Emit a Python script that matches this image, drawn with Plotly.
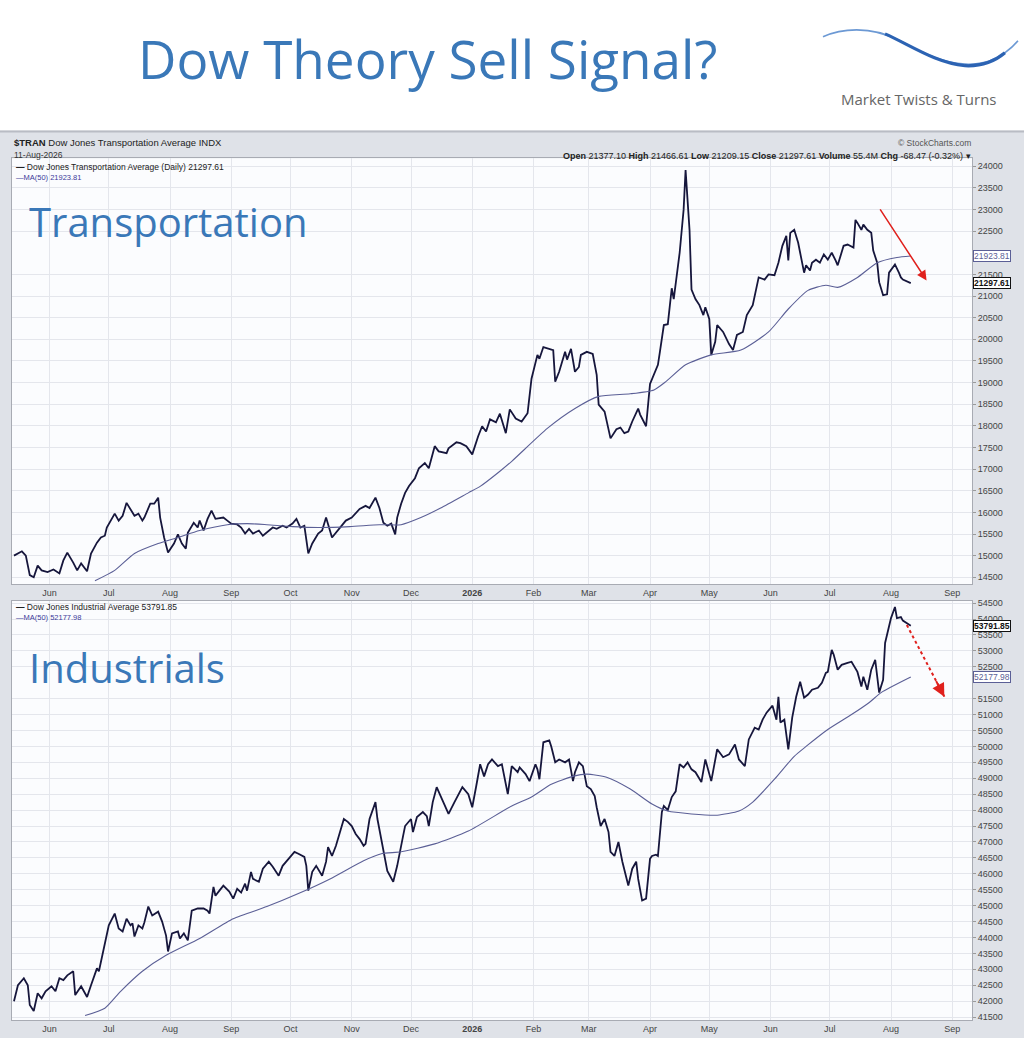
import plotly.graph_objects as go

W, H = 1024, 1040

# ---- values ----
tran_dates = [
    "2025-05-14", "2025-05-18", "2025-05-20", "2025-05-22", "2025-05-24", "2025-05-26", "2025-05-28", "2025-05-31",
    "2025-06-03", "2025-06-06", "2025-06-08", "2025-06-10", "2025-06-13", "2025-06-15", "2025-06-17", "2025-06-20",
    "2025-06-22", "2025-06-25", "2025-06-27", "2025-06-29", "2025-06-30", "2025-07-02", "2025-07-04", "2025-07-06",
    "2025-07-08", "2025-07-10", "2025-07-12", "2025-07-14", "2025-07-16", "2025-07-18", "2025-07-19", "2025-07-22",
    "2025-07-24", "2025-07-26", "2025-07-27", "2025-07-29", "2025-07-31", "2025-08-03", "2025-08-05", "2025-08-07",
    "2025-08-09", "2025-08-10", "2025-08-13", "2025-08-15", "2025-08-16", "2025-08-18", "2025-08-20", "2025-08-22",
    "2025-08-24", "2025-08-28", "2025-08-30", "2025-09-01", "2025-09-04", "2025-09-06", "2025-09-08", "2025-09-10",
    "2025-09-12", "2025-09-15", "2025-09-17", "2025-09-19", "2025-09-22", "2025-09-24", "2025-09-27", "2025-09-29",
    "2025-10-02", "2025-10-04", "2025-10-06", "2025-10-08", "2025-10-10", "2025-10-12", "2025-10-15", "2025-10-17",
    "2025-10-19", "2025-10-22", "2025-10-24", "2025-10-26", "2025-10-29", "2025-11-01", "2025-11-05", "2025-11-08",
    "2025-11-10", "2025-11-13", "2025-11-15", "2025-11-17", "2025-11-19", "2025-11-21", "2025-11-23", "2025-11-24",
    "2025-11-26", "2025-11-28", "2025-11-30", "2025-12-03", "2025-12-05", "2025-12-08", "2025-12-10", "2025-12-13",
    "2025-12-15", "2025-12-19", "2025-12-20", "2025-12-24", "2025-12-26", "2025-12-29", "2026-01-01", "2026-01-04",
    "2026-01-06", "2026-01-08", "2026-01-10", "2026-01-13", "2026-01-15", "2026-01-18", "2026-01-20", "2026-01-23",
    "2026-01-26", "2026-01-29", "2026-01-31", "2026-02-03", "2026-02-04", "2026-02-06", "2026-02-09", "2026-02-11",
    "2026-02-12", "2026-02-14", "2026-02-17", "2026-02-18", "2026-02-20", "2026-02-22", "2026-02-24", "2026-02-25",
    "2026-02-28", "2026-03-03", "2026-03-05", "2026-03-06", "2026-03-09", "2026-03-12", "2026-03-15", "2026-03-17",
    "2026-03-19", "2026-03-21", "2026-03-23", "2026-03-26", "2026-03-27", "2026-03-30", "2026-04-01", "2026-04-05",
    "2026-04-06", "2026-04-08", "2026-04-10", "2026-04-11", "2026-04-12", "2026-04-13", "2026-04-16", "2026-04-18",
    "2026-04-19", "2026-04-21", "2026-04-22", "2026-04-24", "2026-04-26", "2026-04-28", "2026-04-29", "2026-05-01",
    "2026-05-02", "2026-05-04", "2026-05-05", "2026-05-08", "2026-05-11", "2026-05-13", "2026-05-15", "2026-05-18",
    "2026-05-20", "2026-05-23", "2026-05-26", "2026-05-29", "2026-05-31", "2026-06-03", "2026-06-05", "2026-06-07",
    "2026-06-09", "2026-06-10", "2026-06-11", "2026-06-13", "2026-06-15", "2026-06-16", "2026-06-18", "2026-06-19",
    "2026-06-21", "2026-06-22", "2026-06-24", "2026-06-26", "2026-06-28", "2026-06-30", "2026-07-02", "2026-07-04",
    "2026-07-05", "2026-07-08", "2026-07-10", "2026-07-13", "2026-07-14", "2026-07-15", "2026-07-17", "2026-07-18",
    "2026-07-20", "2026-07-22", "2026-07-23", "2026-07-25", "2026-07-26", "2026-07-28", "2026-07-30", "2026-07-31",
    "2026-08-03", "2026-08-05", "2026-08-06", "2026-08-07", "2026-08-11",
]
tran_close = [
    15000, 15100, 15000, 14550, 14500, 14770, 14660, 14620,
    14680, 14590, 14890, 15070, 14840, 14660, 14820, 14640,
    15050, 15300, 15420, 15460, 15650, 15810, 15970, 15810,
    15920, 16220, 16080, 15920, 15970, 15810, 15880, 16200,
    16200, 16340, 15880, 15420, 15070, 15280, 15490, 15280,
    15160, 15530, 15760, 15650, 15810, 15580, 15850, 16040,
    15850, 15880, 15810, 15740, 15720, 15650, 15510, 15620,
    15510, 15580, 15460, 15530, 15650, 15620, 15690, 15650,
    15740, 15850, 15650, 15690, 15050, 15280, 15510, 15580,
    15880, 15420, 15530, 15650, 15810, 15880, 16080, 16150,
    16100, 16340, 16100, 15760, 15690, 15740, 15490, 15880,
    16200, 16450, 16610, 16790, 17020, 17140, 17020, 17530,
    17410, 17370, 17480, 17620, 17600, 17530, 17340, 17760,
    17990, 17870, 18150, 18080, 18280, 17830, 18380, 18170,
    18100, 18290, 19090, 19640, 19550, 19820, 19780, 19750,
    19020, 19250, 19710, 19530, 19780, 19250, 19360, 19640,
    19710, 19660, 19180, 18490, 18330, 17710, 17920, 17960,
    17830, 17870, 18100, 18400, 18260, 17990, 18970, 19410,
    19710, 20330, 20350, 20700, 21180, 20930, 22000, 22990,
    23910, 22530, 21150, 20930, 20790, 20560, 20740, 20470,
    19640, 19940, 20330, 20170, 19890, 19750, 20100, 20170,
    20560, 20790, 21430, 21380, 21500, 21480, 21770, 22160,
    22390, 21820, 22460, 22530, 22230, 22000, 21540, 21710,
    21590, 21770, 21840, 21770, 21960, 21840, 22000, 21820,
    21710, 22160, 22190, 22120, 22760, 22690, 22530, 22650,
    22530, 22460, 22050, 21770, 21320, 21020, 21040, 21540,
    21730, 21540, 21430, 21380, 21297.61,
]
tran_ma_dates = [
    "2025-06-24", "2025-07-04", "2025-07-14", "2025-07-26", "2025-08-05", "2025-08-16", "2025-08-30", "2025-09-09",
    "2025-09-19", "2025-10-02", "2025-10-15", "2025-10-31", "2025-11-15", "2025-11-26", "2025-12-06", "2025-12-16",
    "2025-12-30", "2026-01-05", "2026-01-15", "2026-01-21", "2026-02-08", "2026-02-22", "2026-03-06", "2026-03-22",
    "2026-04-03", "2026-04-09", "2026-04-19", "2026-05-02", "2026-05-17", "2026-05-31", "2026-06-10", "2026-06-20",
    "2026-06-29", "2026-07-05", "2026-07-15", "2026-07-25", "2026-08-04", "2026-08-11",
]
tran_ma = [
    14420, 14660, 15050, 15280, 15420, 15580, 15715, 15740,
    15715, 15670, 15650, 15670, 15715, 15715, 15880, 16100,
    16450, 16600, 16950, 17180, 17940, 18400, 18680, 18740,
    18830, 19020, 19410, 19640, 19750, 20170, 20700, 21130,
    21250, 21200, 21430, 21770, 21890, 21923.81,
]

indu_dates = [
    "2025-05-14", "2025-05-16", "2025-05-19", "2025-05-21", "2025-05-22", "2025-05-24", "2025-05-26", "2025-05-28",
    "2025-05-30", "2025-06-02", "2025-06-04", "2025-06-06", "2025-06-08", "2025-06-10", "2025-06-13", "2025-06-14",
    "2025-06-17", "2025-06-20", "2025-06-22", "2025-06-25", "2025-06-26", "2025-06-29", "2025-07-01", "2025-07-04",
    "2025-07-06", "2025-07-08", "2025-07-10", "2025-07-12", "2025-07-13", "2025-07-14", "2025-07-16", "2025-07-18",
    "2025-07-19", "2025-07-21", "2025-07-23", "2025-07-26", "2025-07-28", "2025-07-30", "2025-07-31", "2025-08-02",
    "2025-08-05", "2025-08-06", "2025-08-08", "2025-08-10", "2025-08-12", "2025-08-15", "2025-08-18", "2025-08-20",
    "2025-08-21", "2025-08-23", "2025-08-24", "2025-08-26", "2025-08-28", "2025-08-31", "2025-09-02", "2025-09-04",
    "2025-09-06", "2025-09-08", "2025-09-09", "2025-09-11", "2025-09-12", "2025-09-15", "2025-09-17", "2025-09-20",
    "2025-09-22", "2025-09-25", "2025-09-27", "2025-09-30", "2025-10-03", "2025-10-05", "2025-10-08", "2025-10-09",
    "2025-10-10", "2025-10-12", "2025-10-14", "2025-10-17", "2025-10-19", "2025-10-20", "2025-10-22", "2025-10-24",
    "2025-10-26", "2025-10-28", "2025-10-30", "2025-11-01", "2025-11-03", "2025-11-05", "2025-11-07", "2025-11-08",
    "2025-11-10", "2025-11-13", "2025-11-14", "2025-11-17", "2025-11-19", "2025-11-22", "2025-11-24", "2025-11-27",
    "2025-11-28", "2025-12-01", "2025-12-02", "2025-12-04", "2025-12-07", "2025-12-09", "2025-12-10", "2025-12-12",
    "2025-12-14", "2025-12-16", "2025-12-20", "2025-12-23", "2025-12-27", "2025-12-30", "2026-01-01", "2026-01-03",
    "2026-01-05", "2026-01-07", "2026-01-09", "2026-01-11", "2026-01-14", "2026-01-16", "2026-01-19", "2026-01-21",
    "2026-01-24", "2026-01-25", "2026-01-28", "2026-01-30", "2026-02-02", "2026-02-03", "2026-02-04", "2026-02-06",
    "2026-02-09", "2026-02-10", "2026-02-12", "2026-02-14", "2026-02-17", "2026-02-19", "2026-02-21", "2026-02-22",
    "2026-02-24", "2026-02-26", "2026-02-28", "2026-03-02", "2026-03-04", "2026-03-05", "2026-03-07", "2026-03-09",
    "2026-03-11", "2026-03-12", "2026-03-14", "2026-03-16", "2026-03-18", "2026-03-21", "2026-03-23", "2026-03-25",
    "2026-03-26", "2026-03-28", "2026-03-30", "2026-04-01", "2026-04-02", "2026-04-04", "2026-04-05", "2026-04-07",
    "2026-04-08", "2026-04-10", "2026-04-12", "2026-04-14", "2026-04-16", "2026-04-18", "2026-04-20", "2026-04-22",
    "2026-04-24", "2026-04-27", "2026-04-29", "2026-05-02", "2026-05-04", "2026-05-05", "2026-05-08", "2026-05-11",
    "2026-05-14", "2026-05-16", "2026-05-19", "2026-05-21", "2026-05-24", "2026-05-26", "2026-05-28", "2026-05-30",
    "2026-06-02", "2026-06-04", "2026-06-05", "2026-06-06", "2026-06-08", "2026-06-10", "2026-06-12", "2026-06-14",
    "2026-06-16", "2026-06-18", "2026-06-20", "2026-06-22", "2026-06-25", "2026-06-27", "2026-06-29", "2026-06-30",
    "2026-07-02", "2026-07-03", "2026-07-05", "2026-07-07", "2026-07-10", "2026-07-12", "2026-07-15", "2026-07-17",
    "2026-07-18", "2026-07-20", "2026-07-22", "2026-07-24", "2026-07-26", "2026-07-28", "2026-07-29", "2026-08-01",
    "2026-08-03", "2026-08-04", "2026-08-06", "2026-08-07", "2026-08-11",
]
indu_close = [
    42000, 42500, 42720, 42500, 41880, 41690, 42250, 42090,
    42310, 42470, 42310, 42720, 42660, 42810, 42940, 42190,
    42470, 42130, 42500, 43030, 42940, 43750, 44380, 44750,
    44280, 44190, 44590, 44380, 44440, 44030, 44380, 44280,
    44470, 44970, 44690, 44810, 44500, 44060, 43560, 44130,
    44190, 43970, 44130, 43910, 44840, 44910, 44910, 44840,
    44750, 45590, 45310, 45470, 45630, 45440, 45220, 45530,
    45410, 45690, 45470, 46060, 45840, 45750, 46160, 46380,
    46220, 45940, 46250, 46470, 46690, 46630, 46530, 46250,
    45470, 46060, 46250, 45940, 46380, 46840, 46560, 46880,
    47340, 47720, 47630, 47500, 47250, 47090, 46880, 46940,
    47720, 48250, 47720, 46690, 46090, 45750, 46250, 47190,
    47500, 47720, 47310, 47780, 47940, 47810, 47500, 48250,
    48720, 48440, 47880, 48250, 48720, 48500, 48090, 48750,
    49440, 49060, 49440, 49590, 49380, 49440, 48500, 49380,
    49190, 49340, 49130, 48910, 49440, 49280, 48970, 50130,
    50190, 50000, 49500, 49590, 49500, 49590, 48910, 49190,
    49500, 49380, 48750, 48660, 48440, 48090, 47500, 47720,
    47310, 46690, 46560, 47000, 46380, 45630, 46160, 46380,
    45840, 45160, 45220, 46470, 46560, 46600, 46560, 47940,
    48130, 48000, 48410, 48590, 49440, 49340, 49500, 49280,
    49190, 48880, 49590, 48910, 49590, 49910, 49660, 49750,
    50060, 49590, 49380, 50220, 50590, 50530, 50840, 51060,
    51280, 50840, 51560, 50750, 50840, 49910, 50910, 51560,
    52030, 51530, 51630, 51780, 51840, 52000, 52310, 52340,
    53030, 52880, 52410, 52560, 52620, 52660, 52340, 51880,
    52190, 51780, 52410, 52720, 51690, 52090, 53250, 54030,
    54380, 54030, 54060, 53950, 53791.85,
]
indu_ma_dates = [
    "2025-06-19", "2025-06-29", "2025-07-07", "2025-07-18", "2025-07-30", "2025-08-16", "2025-09-02", "2025-09-19",
    "2025-10-05", "2025-10-21", "2025-11-07", "2025-11-16", "2025-11-26", "2025-12-13", "2025-12-30", "2026-01-21",
    "2026-01-31", "2026-02-10", "2026-02-21", "2026-02-28", "2026-03-10", "2026-03-22", "2026-04-02", "2026-04-10",
    "2026-04-22", "2026-05-05", "2026-05-16", "2026-05-23", "2026-06-03", "2026-06-13", "2026-06-19", "2026-06-30",
    "2026-07-12", "2026-07-21", "2026-07-27", "2026-08-11",
]
indu_ma = [
    41550, 41780, 42310, 42940, 43440, 43970, 44590, 44970,
    45380, 45840, 46410, 46630, 46690, 46940, 47340, 48130,
    48410, 48810, 49060, 49130, 49030, 48660, 48190, 47970,
    47880, 47840, 47970, 48250, 48970, 49690, 50000, 50530,
    51000, 51380, 51690, 52177.98,
]

month_ticks = [
    "2025-06-01", "2025-07-01", "2025-08-01", "2025-09-01", "2025-10-01", "2025-11-01", "2025-12-01", "2026-01-01",
    "2026-02-01", "2026-03-01", "2026-04-01", "2026-05-01", "2026-06-01", "2026-07-01", "2026-08-01", "2026-09-01",
]
month_labels = ["Jun", "Jul", "Aug", "Sep", "Oct", "Nov", "Dec", "<b>2026</b>",
                "Feb", "Mar", "Apr", "May", "Jun", "Jul", "Aug", "Sep"]

# price-axis labels; 22000 and 52000 sit under the value boxes in the original
tran_ticks = [14500, 15000, 15500, 16000, 16500, 17000, 17500, 18000, 18500, 19000,
              19500, 20000, 20500, 21000, 21500, 22500, 23000, 23500, 24000]
indu_ticks = [41500, 42000, 42500, 43000, 43500, 44000, 44500, 45000, 45500, 46000,
              46500, 47000, 47500, 48000, 48500, 49000, 49500, 50000, 50500, 51000,
              51500, 52500, 53000, 53500, 54000, 54500]

x_range = ["2025-05-13", "2026-09-11"]
tran_range = [14340, 24184]
indu_range = [41406, 54563]

# arrow ends (date, value)
tran_arrow = (("2026-07-26", 23036), ("2026-08-19", 21361))
indu_arrow = (("2026-08-09", 53813), ("2026-08-28", 51563))


def pxx(x):
    return x / W


def pxy(y):
    return 1 - y / H


LINE = "#16163c"
MA_COL = "#5b5f96"
FONT = "Liberation Sans"
BLUE = "#3a78b8"

fig = go.Figure()

fig.add_trace(go.Scatter(x=tran_dates, y=tran_close, mode="lines", xaxis="x", yaxis="y",
                         line=dict(color=LINE, width=1.8), hoverinfo="skip"))
fig.add_trace(go.Scatter(x=tran_ma_dates, y=tran_ma, mode="lines", xaxis="x", yaxis="y",
                         line=dict(color=MA_COL, width=1.1, shape="spline", smoothing=0.6), hoverinfo="skip"))
fig.add_trace(go.Scatter(x=indu_dates, y=indu_close, mode="lines", xaxis="x2", yaxis="y2",
                         line=dict(color=LINE, width=1.8), hoverinfo="skip"))
fig.add_trace(go.Scatter(x=indu_ma_dates, y=indu_ma, mode="lines", xaxis="x2", yaxis="y2",
                         line=dict(color=MA_COL, width=1.1, shape="spline", smoothing=0.6), hoverinfo="skip"))

# dotted sell arrow on the industrials
fig.add_trace(go.Scatter(x=[indu_arrow[0][0], indu_arrow[1][0]], y=[indu_arrow[0][1], indu_arrow[1][1]],
                         mode="lines", xaxis="x2", yaxis="y2",
                         line=dict(color="#e0201c", width=2, dash="dot"), hoverinfo="skip"))

axis_common = dict(showline=True, linecolor="#a8abb3", linewidth=1, mirror=True,
                   gridcolor="#e4e6ec", gridwidth=1, zeroline=False,
                   tickfont=dict(family=FONT, size=9, color="#444"))

top_dom = [pxy(584), pxy(156)]
bot_dom = [pxy(1022), pxy(601)]
x_dom = [pxx(12), pxx(972)]

fig.update_layout(
    width=W, height=H,
    margin=dict(l=0, r=0, t=0, b=0),
    paper_bgcolor="white",
    plot_bgcolor="rgba(0,0,0,0)",
    showlegend=False,
    xaxis=dict(domain=x_dom, anchor="y", range=x_range, type="date",
               tickvals=month_ticks, ticktext=month_labels, ticks="", **axis_common),
    yaxis=dict(domain=top_dom, anchor="x", range=tran_range, side="right", tickvals=tran_ticks,
               tickformat="d", ticks="outside", ticklen=3, tickcolor="#999", **axis_common),
    xaxis2=dict(domain=x_dom, anchor="y2", range=x_range, type="date",
                tickvals=month_ticks, ticktext=month_labels, ticks="", **axis_common),
    yaxis2=dict(domain=bot_dom, anchor="x2", range=indu_range, side="right", tickvals=indu_ticks,
                tickformat="d", ticks="outside", ticklen=3, tickcolor="#999", **axis_common),
)

# backgrounds: grey StockCharts frame and white plot areas
shapes = [
    dict(type="rect", xref="paper", yref="paper", x0=0, x1=1, y0=0, y1=pxy(128),
         fillcolor="#dfe2e8", line=dict(width=0), layer="below"),
    dict(type="line", xref="paper", yref="paper", x0=0, x1=1, y0=pxy(129), y1=pxy(129),
         line=dict(color="#b9bcc4", width=2), layer="below"),
    dict(type="rect", xref="paper", yref="paper", x0=x_dom[0], x1=x_dom[1], y0=top_dom[0], y1=top_dom[1],
         fillcolor="#fbfcfe", line=dict(width=0), layer="below"),
    dict(type="rect", xref="paper", yref="paper", x0=x_dom[0], x1=x_dom[1], y0=bot_dom[0], y1=bot_dom[1],
         fillcolor="#fbfcfe", line=dict(width=0), layer="below"),
]


# logo swoosh, one explicit C command per cubic segment
def path(start, segments):
    s = f"M {pxx(start[0]):.4f},{pxy(start[1]):.4f}"
    for seg in segments:
        s += " C " + " ".join(f"{pxx(x):.4f},{pxy(y):.4f}" for x, y in seg)
    return s


shapes.append(dict(type="path", xref="paper", yref="paper",
                   path=path((823, 34), [((840, 26), (870, 22), (900, 38)),
                                         ((930, 55), (960, 68), (990, 58)),
                                         ((1005, 52), (1012, 45), (1018, 38))]),
                   line=dict(color="#6c99d4", width=1.6)))
shapes.append(dict(type="path", xref="paper", yref="paper",
                   path=path((885, 31), [((910, 42), (935, 60), (965, 63)),
                                         ((985, 64), (998, 56), (1005, 50))]),
                   line=dict(color="#2c63b3", width=3.2)))
fig.update_layout(shapes=shapes)

ann = []


def text(x, y, s, size=9, color="#222", xanchor="left", family=FONT, **kw):
    ann.append(dict(x=pxx(x), y=pxy(y), xref="paper", yref="paper", text=s, showarrow=False,
                    xanchor=xanchor, yanchor="middle", font=dict(family=family, size=size, color=color), **kw))


text(427, 56, "Dow Theory Sell Signal?", size=53, color=BLUE, xanchor="center", family="Open Sans")
text(918, 96, "Market Twists &amp; Turns", size=15, color="#666", xanchor="center", family="Open Sans")

text(12, 140, "<b>$TRAN</b> Dow Jones Transportation Average INDX", size=9.5, color="#222")
text(12, 153, "11-Aug-2026", size=8.5, color="#333")
text(973, 141, "© StockCharts.com", size=8.5, color="#555", xanchor="right")
text(973, 154, "<b>Open</b> 21377.10 <b>High</b> 21466.61 <b>Low</b> 21209.15 <b>Close</b> 21297.61 "
               "<b>Volume</b> 55.4M <b>Chg</b> -68.47 (-0.32%) ▾", size=9, color="#222", xanchor="right")

text(14, 165, "<b>—</b> Dow Jones Transportation Average (Daily) 21297.61", size=8.5, color="#222")
text(14, 175, "—MA(50) 21923.81", size=7.5, color="#3a3a9a")
text(14, 607, "<b>—</b> Dow Jones Industrial Average 53791.85", size=8.5, color="#222")
text(14, 617, "—MA(50) 52177.98", size=7.5, color="#3a3a9a")

text(27, 220, "Transportation", size=40, color=BLUE, family="Open Sans")
text(27, 668, "Industrials", size=40, color=BLUE, family="Open Sans")

# current-value boxes on the price axes
for yref, val, col, bold in (("y", tran_ma[-1], "#5b5f96", False), ("y", tran_close[-1], "#111", True),
                             ("y2", indu_close[-1], "#111", True), ("y2", indu_ma[-1], "#5b5f96", False)):
    s = f"{val:.2f}"
    ann.append(dict(x=pxx(973), y=val, xref="paper", yref=yref, text=f"<b>{s}</b>" if bold else s,
                    showarrow=False, xanchor="left", yanchor="middle", bgcolor="white",
                    bordercolor=col, borderwidth=1, borderpad=0,
                    font=dict(family=FONT, size=8.5, color=col)))

# solid sell arrow on the transports
ann.append(dict(x=tran_arrow[1][0], y=tran_arrow[1][1], ax=tran_arrow[0][0], ay=tran_arrow[0][1],
                xref="x", yref="y", axref="x", ayref="y", text="", showarrow=True,
                arrowhead=2, arrowsize=1.3, arrowwidth=1.5, arrowcolor="#e0201c"))
# head for the dotted arrow
ann.append(dict(x=indu_arrow[1][0], y=indu_arrow[1][1], ax=-9, ay=-17,
                xref="x2", yref="y2", text="", showarrow=True,
                arrowhead=2, arrowsize=1.3, arrowwidth=2, arrowcolor="#e0201c"))

fig.update_layout(annotations=ann)

# page body has a default 8px margin; drop it so the figure fills the window
fig.write_html("out.html", config={"displayModeBar": False},
               post_script="document.body.style.margin='0';")
